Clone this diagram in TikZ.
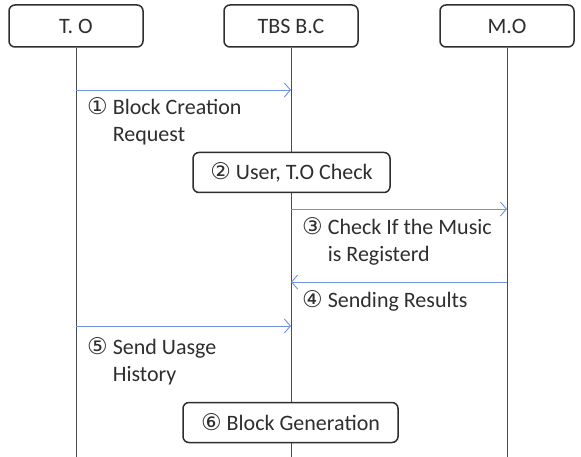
\documentclass[tikz,border=0pt]{standalone}
\usepackage{fontspec}
\setmainfont{Carlito}
\newfontfamily\circfont{DejaVu Sans}
\usetikzlibrary{arrows.meta}
\definecolor{msgblue}{HTML}{7092E0}
\definecolor{inkgray}{HTML}{2E2E2E}
\newcommand{\circnum}[1]{{\circfont\fontsize{23}{27}\selectfont #1}}

\begin{document}
\begin{tikzpicture}[x=1pt,y=-1pt,
    every node/.style={text=inkgray,font=\fontsize{22}{27}\selectfont},
    actor/.style={draw=inkgray,fill=white,rounded corners=6pt,line width=1.5pt,minimum width=134pt,minimum height=42pt},
    procbox/.style={draw=inkgray,fill=white,rounded corners=6pt,line width=1.5pt,minimum height=40pt},
    lifeline/.style={draw=inkgray!85,line width=0.9pt},
    msg/.style={draw=msgblue,line width=0.9pt,-{Straight Barb[length=6pt,width=14pt]}},
    note/.style={anchor=base west,inner sep=0pt}]
            \useasboundingbox (0,0) rectangle (581,457);

            % participants
            \node[actor] (to)  at (76,26)  {T. O};
            \node[actor] (tbs) at (291,26) {TBS B.C};
            \node[actor] (mo)  at (507,26) {M.O};

            \coordinate (toEnd)  at (76,457);
            \coordinate (tbsEnd) at (291,457);
            \coordinate (moEnd)  at (507,457);
            \draw[lifeline] (to)  -- (toEnd);
            \draw[lifeline] (tbs) -- (tbsEnd);
            \draw[lifeline] (mo)  -- (moEnd);

            % message ends on the lifelines
            \coordinate (to1)  at (76,90);
            \coordinate (tbs1) at (291,90);
            \coordinate (tbs3) at (291,209);
            \coordinate (mo3)  at (507,209);
            \coordinate (mo4)  at (507,282);
            \coordinate (tbs4) at (291,282);
            \coordinate (to5)  at (76,326);
            \coordinate (tbs5) at (291,326);

            \draw[msg] (to1) -- (tbs1);
            \node[note] (lab1) at (87,115)
                {\begin{tabular}[t]{@{}l@{\hspace{5pt}}l@{}}\circnum{①} & Block Creation\\ & Request\end{tabular}};

            \node[procbox,minimum width=197pt] (check) at (291.5,172.5)
                {\circnum{②}\hspace{5pt}User, T.O Check};

            \draw[msg] (tbs3) -- (mo3);
            \node[note] (lab3) at (302,235)
                {\begin{tabular}[t]{@{}l@{\hspace{5pt}}l@{}}\circnum{③} & Check If the Music\\ & is Registerd\end{tabular}};

            \draw[msg] (mo4) -- (tbs4);
            \node[note] (lab4) at (302,307)
                {\circnum{④}\hspace{5pt}Sending Results};

            \draw[msg] (to5) -- (tbs5);
            \node[note] (lab5) at (87,354)
                {\begin{tabular}[t]{@{}l@{\hspace{5pt}}l@{}}\circnum{⑤} & Send Uasge\\ & History\end{tabular}};

            \node[procbox,minimum width=215pt] (gen) at (290.5,422.5)
                {\circnum{⑥}\hspace{5pt}Block Generation};
        \end{tikzpicture}
\end{document}
